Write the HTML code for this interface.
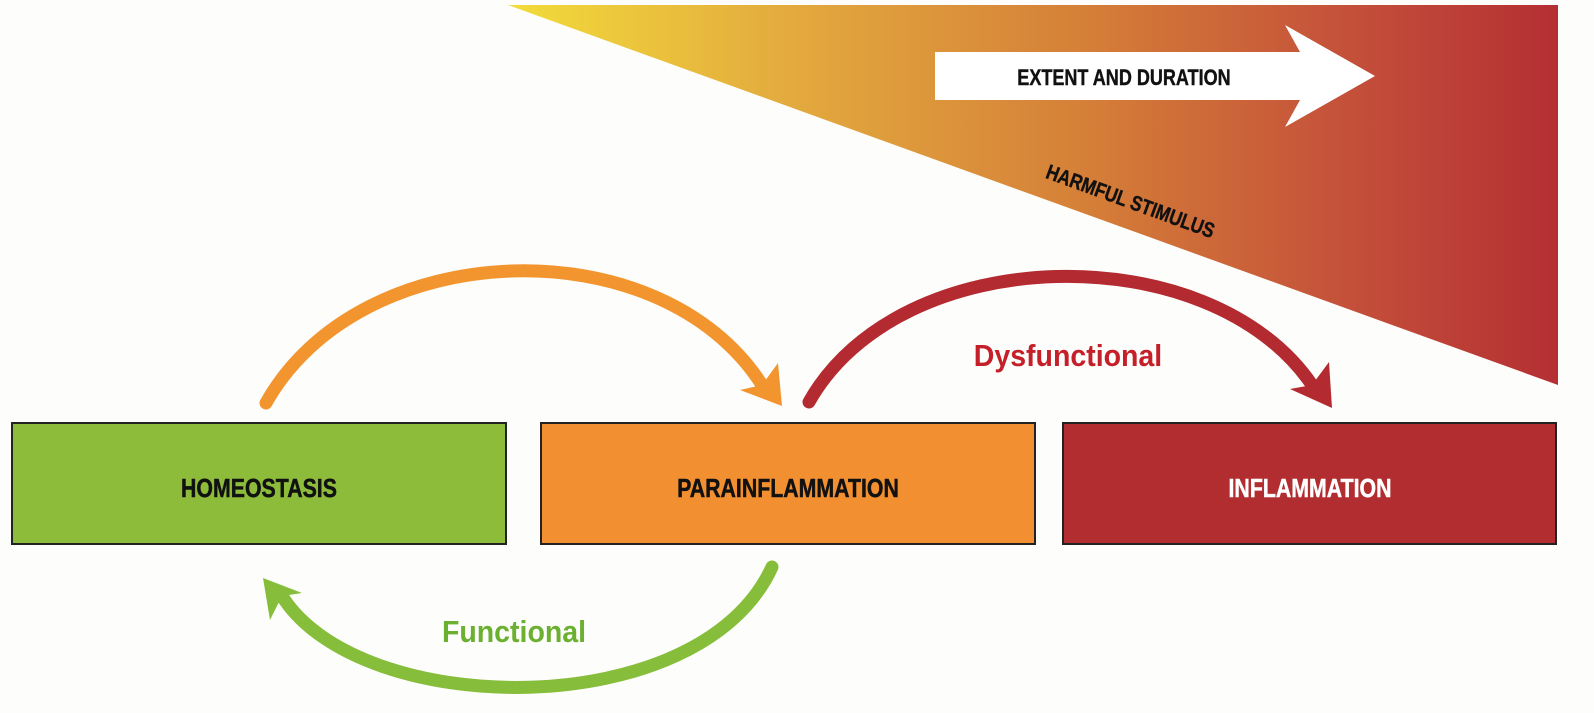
<!DOCTYPE html>
<html><head><meta charset="utf-8"><style>
html,body{margin:0;padding:0;background:#fdfdfb;}
svg{display:block;}
text{font-family:"Liberation Sans",sans-serif;font-weight:bold;}
</style></head><body>
<svg width="1594" height="713" viewBox="0 0 1594 713" xmlns="http://www.w3.org/2000/svg">
<defs>
<linearGradient id="g" x1="508" y1="0" x2="1558" y2="0" gradientUnits="userSpaceOnUse">
<stop offset="0" stop-color="#f2dc3a"/>
<stop offset="0.25" stop-color="#e4ad3e"/>
<stop offset="0.55" stop-color="#d57f38"/>
<stop offset="0.8" stop-color="#c4503a"/>
<stop offset="1" stop-color="#b42f33"/>
</linearGradient>
</defs>
<rect width="1594" height="713" fill="#fdfdfb"/>
<polygon points="508,5 1558,5 1558,385" fill="url(#g)"/>
<polygon points="935,52 1300,52 1285,25 1375,76 1285,127 1300,100 935,100" fill="#fff"/>
<text x="1124" y="85" text-anchor="middle" font-size="22" fill="#111" stroke="#111" stroke-width="0.4" transform="translate(1124 0) scale(0.82 1) translate(-1124 0)">EXTENT AND DURATION</text>
<text x="0" y="0" text-anchor="middle" font-size="21" fill="#111" stroke="#111" stroke-width="0.4" transform="translate(1128 208) rotate(20) scale(0.82 1)">HARMFUL STIMULUS</text>

<rect x="12" y="423" width="494" height="121" fill="#8cbc3a" stroke="#222" stroke-width="2"/>
<rect x="541" y="423" width="494" height="121" fill="#f28f30" stroke="#222" stroke-width="2"/>
<rect x="1063" y="423" width="493" height="121" fill="#b22d30" stroke="#222" stroke-width="2"/>
<text x="259" y="497" text-anchor="middle" font-size="26" fill="#111" stroke="#111" stroke-width="0.5" transform="translate(259 0) scale(0.82 1) translate(-259 0)">HOMEOSTASIS</text>
<text x="788" y="497" text-anchor="middle" font-size="26" fill="#111" stroke="#111" stroke-width="0.5" transform="translate(788 0) scale(0.82 1) translate(-788 0)">PARAINFLAMMATION</text>
<text x="1310" y="497" text-anchor="middle" font-size="26" fill="#fff" stroke="#fff" stroke-width="0.5" transform="translate(1310 0) scale(0.82 1) translate(-1310 0)">INFLAMMATION</text>

<path d="M266,403 C360,235 660,225 762,385" fill="none" stroke="#f2952f" stroke-width="13" stroke-linecap="round"/>
<polygon points="782,406 778,363 762,385 740,390" fill="#f2952f"/>
<path d="M809,402 C900,240 1210,235 1312,385" fill="none" stroke="#b32b30" stroke-width="13" stroke-linecap="round"/>
<polygon points="1332,408 1329,362 1312,385 1290,389" fill="#b32b30"/>
<path d="M772,567 C700,725 360,720 282,596" fill="none" stroke="#86bd3a" stroke-width="13" stroke-linecap="round"/>
<polygon points="263,578 302,593 282,596 270,620" fill="#86bd3a"/>

<text x="1068" y="366" text-anchor="middle" font-size="31" fill="#c5202a" transform="translate(1068 0) scale(0.92 1) translate(-1068 0)">Dysfunctional</text>
<text x="514" y="642" text-anchor="middle" font-size="31" fill="#6cb032" transform="translate(514 0) scale(0.92 1) translate(-514 0)">Functional</text>
</svg>
</body></html>
